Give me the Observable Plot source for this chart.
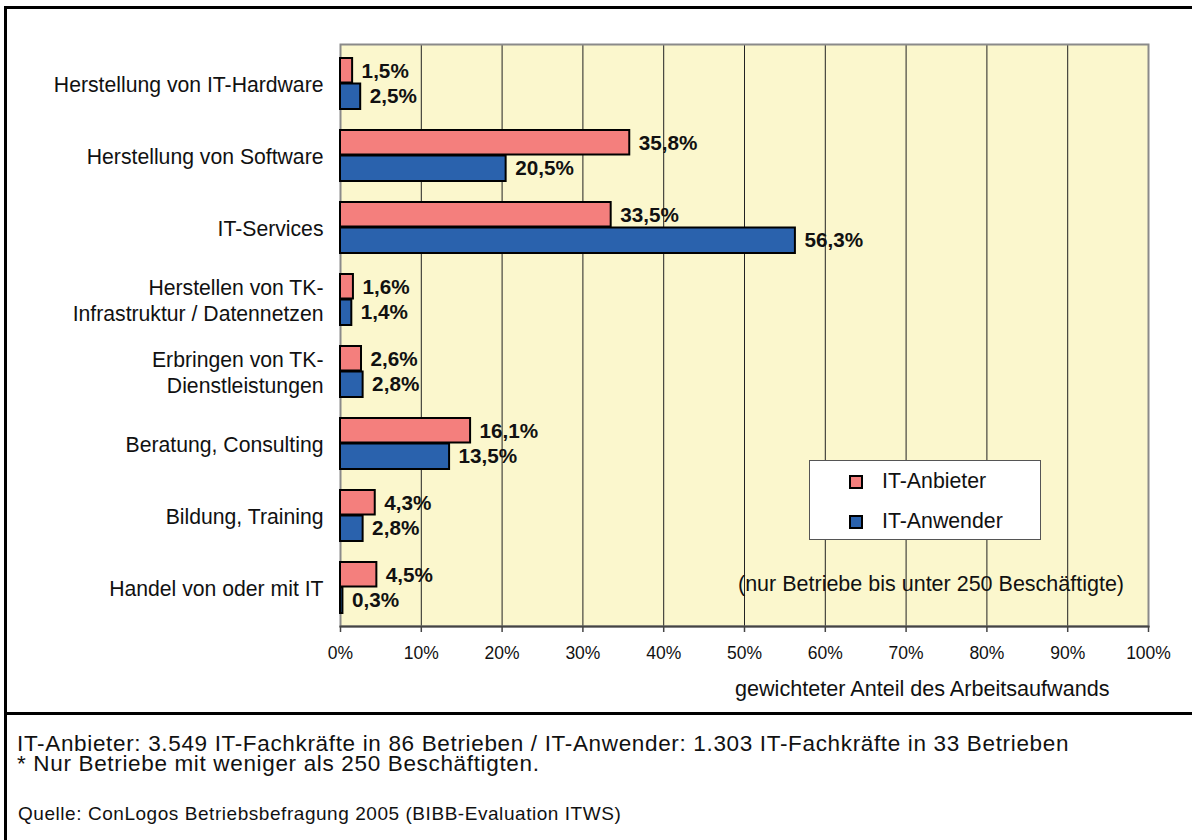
<!DOCTYPE html>
<html>
<head>
<meta charset="utf-8">
<script src="https://cdn.jsdelivr.net/npm/d3@7"></script>
<script src="https://cdn.jsdelivr.net/npm/@observablehq/plot@0.6"></script>
<style>
  html, body { margin: 0; padding: 0; background: #fff; }
  #wrap { position: relative; width: 1192px; height: 840px; overflow: hidden; background: #fff;
          font-family: "Liberation Sans", Arial, sans-serif; color: #111; }
  #frame { position: absolute; left: 4px; top: 6px; width: 1300px; height: 900px;
           border-left: 3px solid #000; border-top: 3px solid #000; box-sizing: border-box; }
  #sep { position: absolute; left: 4px; top: 712px; width: 1300px; height: 3px; background: #000; }
  #chart { position: absolute; left: 0; top: 0; }
  #legend { position: absolute; left: 809px; top: 460px; width: 232px; height: 80px; box-sizing: border-box;
            background: #fff; border: 1px solid #555; }
  .li { position: absolute; left: 39px; font-size: 21.3px; line-height: 24px; white-space: nowrap; }
  .sw { display: inline-block; width: 14px; height: 14px; box-sizing: border-box; border: 2px solid #000;
        vertical-align: -1px; margin-right: 19px; }
  #note { position: absolute; left: 738px; top: 572px; font-size: 21.5px; white-space: nowrap; }
  #xlabel { position: absolute; left: 735px; top: 676px; font-size: 21.6px; white-space: nowrap; }
  #foot { position: absolute; left: 17px; top: 734px; font-size: 22.5px; line-height: 20px; letter-spacing: 0.66px; white-space: nowrap; }
  #src { position: absolute; left: 18px; top: 803px; font-size: 19px; letter-spacing: 0.55px; white-space: nowrap; }
</style>
</head>
<body>
<div id="wrap">
  <div id="frame"></div>
  <div id="sep"></div>
  <div id="chart"></div>
  <div id="legend"></div>
  <div id="note"></div>
  <div id="xlabel"></div>
  <div id="foot"></div>
  <div id="src"></div>
</div>
<script>
const categories = [
  "Herstellung von IT-Hardware",
  "Herstellung von Software",
  "IT-Services",
  "Herstellen von TK-\nInfrastruktur / Datennetzen",
  "Erbringen von TK-\nDienstleistungen",
  "Beratung, Consulting",
  "Bildung, Training",
  "Handel von oder mit IT"
];
const series = ["IT-Anbieter", "IT-Anwender"];
const anbieterValues = [1.5, 35.8, 33.5, 1.6, 2.6, 16.1, 4.3, 4.5];
const anwenderValues = [2.5, 20.5, 56.3, 1.4, 2.8, 13.5, 2.8, 0.3];
const xTicks = [0, 10, 20, 30, 40, 50, 60, 70, 80, 90, 100];
const seriesColors = ["#F47F7D", "#2A62AD"];
const xTitle = "gewichteter Anteil des Arbeitsaufwands";
const noteText = "(nur Betriebe bis unter 250 Beschäftigte)";
const footLines = [
  "IT-Anbieter: 3.549 IT-Fachkräfte in 86 Betrieben / IT-Anwender: 1.303 IT-Fachkräfte in 33 Betrieben",
  "* Nur Betriebe mit weniger als 250 Beschäftigten."
];
const sourceText = "Quelle: ConLogos Betriebsbefragung 2005 (BIBB-Evaluation ITWS)";

const rowsA = categories.map((c, i) => ({category: c, series: series[0], value: anbieterValues[i]}));
const rowsB = categories.map((c, i) => ({category: c, series: series[1], value: anwenderValues[i]}));
const fmt = v => v.toFixed(1).replace(".", ",") + "%";

const chart = Plot.plot({
  width: 1192,
  height: 713,
  marginLeft: 340,
  marginRight: 44,
  marginTop: 44,
  marginBottom: 87,
  style: {fontFamily: "'Liberation Sans', Arial, sans-serif", color: "#111", background: "transparent", overflow: "visible"},
  x: {domain: [0, 100], label: null},
  y: {domain: categories, padding: 0, label: null, axis: null},
  color: {domain: series, range: seriesColors},
  marks: [
    Plot.frame({fill: "#FBF7CD", stroke: null}),
    Plot.gridX({ticks: xTicks.slice(1, -1), stroke: "#222", strokeOpacity: 1, strokeWidth: 1}),
    Plot.frame({stroke: "#8a8a8a", strokeWidth: 2}),
    Plot.frame({anchor: "bottom", stroke: "#444", strokeWidth: 2}),
    Plot.barX(rowsA, {y: "category", x: "value", fill: "series", stroke: "#000", strokeWidth: 2, insetTop: 11, insetBottom: 36.5}),
    Plot.barX(rowsB, {y: "category", x: "value", fill: "series", stroke: "#000", strokeWidth: 2, insetTop: 36.5, insetBottom: 10}),
    Plot.text(rowsA, {y: "category", x: "value", text: d => fmt(d.value), textAnchor: "start", dx: 9, dy: -12.5, fontSize: 20.7, fontWeight: "bold", fill: "#111"}),
    Plot.text(rowsB, {y: "category", x: "value", text: d => fmt(d.value), textAnchor: "start", dx: 9, dy: 13, fontSize: 20.7, fontWeight: "bold", fill: "#111"}),
    Plot.axisX({ticks: xTicks, tickFormat: d => d + "%", tickSize: 6, tickPadding: 14, fontSize: 17.5, stroke: "#444", strokeWidth: 1.5, label: null}),
    Plot.axisY({tickSize: 0, tickPadding: 17, fontSize: 21.2, lineHeight: 1.22, label: null})
  ]
});
document.getElementById("chart").appendChild(chart);

const legend = document.getElementById("legend");
series.forEach((s, i) => {
  const item = document.createElement("div");
  item.className = "li";
  item.style.top = (8 + i * 40) + "px";
  const sw = document.createElement("span");
  sw.className = "sw";
  sw.style.background = seriesColors[i];
  item.appendChild(sw);
  item.appendChild(document.createTextNode(s));
  legend.appendChild(item);
});
document.getElementById("note").textContent = noteText;
document.getElementById("xlabel").textContent = xTitle;
document.getElementById("foot").innerHTML = footLines.map(l => l.replace(/&/g, "&amp;")).join("<br>");
document.getElementById("src").textContent = sourceText;
</script>
</body>
</html>
